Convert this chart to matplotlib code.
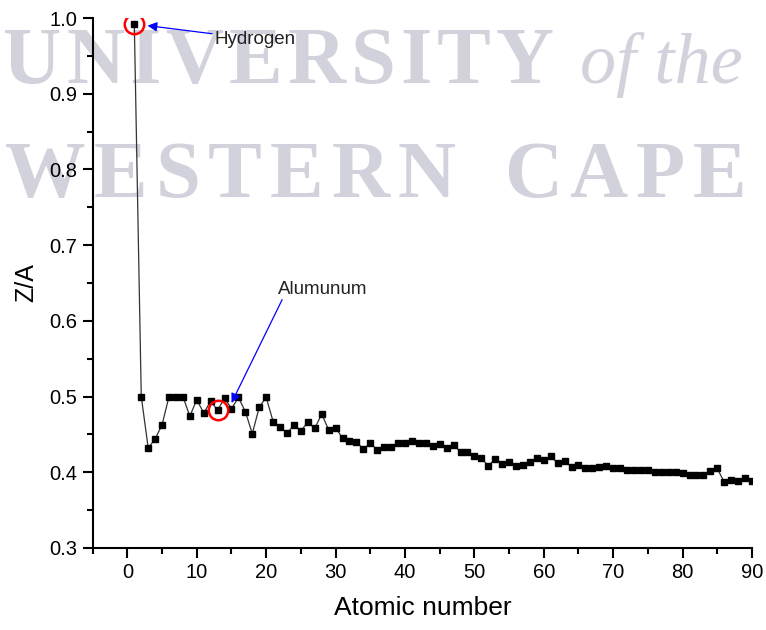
import matplotlib
matplotlib.use("Agg")
import matplotlib.pyplot as plt
from matplotlib.ticker import MultipleLocator

# Z/A for elements Z = 1..90
atomic_number = list(range(1, 91))
z_over_a = [
    0.992, 0.500, 0.432, 0.444, 0.463, 0.500, 0.500, 0.500, 0.474, 0.496,
    0.478, 0.494, 0.482, 0.498, 0.484, 0.499, 0.480, 0.451, 0.486, 0.499,
    0.467, 0.460, 0.452, 0.462, 0.455, 0.466, 0.458, 0.477, 0.456, 0.459,
    0.445, 0.441, 0.440, 0.431, 0.438, 0.430, 0.433, 0.434, 0.439, 0.438,
    0.441, 0.438, 0.439, 0.435, 0.437, 0.432, 0.436, 0.427, 0.427, 0.421,
    0.419, 0.408, 0.418, 0.411, 0.414, 0.408, 0.410, 0.414, 0.419, 0.416,
    0.421, 0.412, 0.415, 0.407, 0.409, 0.406, 0.406, 0.407, 0.408, 0.405,
    0.406, 0.403, 0.403, 0.403, 0.403, 0.400, 0.401, 0.400, 0.401, 0.399,
    0.396, 0.396, 0.397, 0.402, 0.405, 0.387, 0.390, 0.389, 0.392, 0.388,
]
highlight = {"Hydrogen": 1, "Alumunum": 13}

plt.rcParams['font.family'] = ['Liberation Sans', 'DejaVu Sans']

fig = plt.figure(figsize=(7.66, 6.30), dpi=100)
ax = fig.add_axes([0.121, 0.1302, 0.8607, 0.8412])
ax.set_zorder(2)
ax.patch.set_visible(False)

# watermark, letter-spaced
wm_color = '#d2d2dc'
renderer = fig.canvas.get_renderer()

def spaced_text(x0, y0, text, gap, space, **kw):
    x = x0
    for ch in text:
        if ch == ' ':
            x += space
            continue
        t = fig.text(x / 766, 1 - y0 / 630, ch, color=wm_color, zorder=0,
                     va='baseline', ha='left', **kw)
        bb = t.get_window_extent(renderer)
        x += bb.width + gap
    return x

serif = ['Liberation Serif', 'DejaVu Serif']
xend = spaced_text(3, 83, "UNIVERSITY", 5, 0, fontsize=58, fontweight='bold', family=serif)
fig.text((xend + 22) / 766, 1 - 83 / 630, "of the", color=wm_color, zorder=0,
         va='baseline', ha='left', fontsize=52, fontstyle='italic', family=serif)
spaced_text(5, 197, "WESTERN CAPE", 8, 40, fontsize=58, fontweight='bold', family=serif)

ax.plot(atomic_number, z_over_a, color='#333333', lw=0.9, marker='s',
        markersize=4.8, markerfacecolor='black', markeredgecolor='black', zorder=3)

for name, z in highlight.items():
    ax.plot(atomic_number[z - 1], z_over_a[z - 1], marker='o', markersize=14,
            markerfacecolor='none', markeredgecolor='red', mew=1.8, zorder=4)

arrow = dict(arrowstyle='-|>', color='blue', lw=0.9, mutation_scale=14,
             shrinkA=0, shrinkB=0)
ax.annotate("Hydrogen", xy=(2.9, 0.990), xytext=(12.6, 0.972),
            fontsize=13.5, color='#222222', va='center', ha='left',
            arrowprops=arrow, zorder=5)
ax.annotate("", xy=(15.0, 0.4915), xytext=(22.3, 0.628),
            arrowprops=arrow, zorder=5)
ax.text(28.1, 0.641, "Alumunum", fontsize=13.5, color='#222222',
        va='center', ha='center', zorder=5)

ax.set_xlim(-5, 90)
ax.set_ylim(0.3, 1.0)
ax.xaxis.set_major_locator(MultipleLocator(10))
ax.xaxis.set_minor_locator(MultipleLocator(5))
ax.yaxis.set_major_locator(MultipleLocator(0.1))
ax.yaxis.set_minor_locator(MultipleLocator(0.05))
ax.set_yticks([0.3, 0.4, 0.5, 0.6, 0.7, 0.8, 0.9, 1.0])
ax.set_yticklabels(['0.3', '0.4', '0.5', '0.6', '0.7', '0.8', '0.9', '1.0'])

for s in ['top', 'right']:
    ax.spines[s].set_visible(False)
for s in ['left', 'bottom']:
    ax.spines[s].set_linewidth(1.5)
ax.tick_params(which='major', direction='out', length=7, width=1.5,
               labelsize=14.5, pad=4)
ax.tick_params(which='minor', direction='out', length=4, width=1.5)

ax.set_xlabel('Atomic number', fontsize=19, labelpad=10)
ax.set_ylabel('Z/A', fontsize=18, labelpad=8)

fig.savefig('out.png', dpi=100)
